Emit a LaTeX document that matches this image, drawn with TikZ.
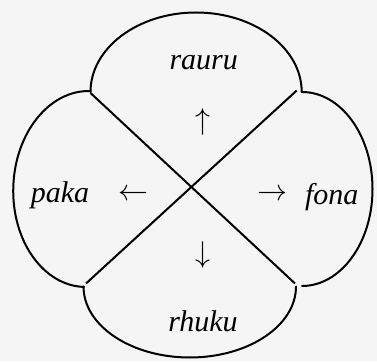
\RequirePackage{fix-cm}
\documentclass[tikz,border=0pt]{standalone}
\usepackage{fontspec}
\setmainfont{Liberation Serif}
\begin{document}
\begin{tikzpicture}[x=1pt,y=1pt,
  lobe/.style={line width=2pt, line cap=round},
  cross/.style={line width=2pt},
  word/.style={inner sep=0pt, anchor=base, font=\fontsize{30}{36}\selectfont\itshape},
  dirarrow/.style={inner sep=0pt, anchor=center, font=\fontsize{30}{36}\selectfont}]
\useasboundingbox[fill=black!4] (0,0) rectangle (377,361);
% corner junctions
\coordinate (ul) at (90.5,268);
\coordinate (lr) at (295,77.5);
\coordinate (ur) at (296.7,270.5);
\coordinate (ll) at (86,77.5);
% lobes
\draw[lobe] (90.5,269) arc[start angle=180, end angle=0, x radius=105.6, y radius=79.5];
\draw[lobe] (302,269) arc[start angle=90, end angle=-90, x radius=70.5, y radius=97];
\draw[lobe] (296,74.5) arc[start angle=0, end angle=-180, x radius=106.25, y radius=71];
\draw[lobe, rotate around={-1.9:(87.25,172)}] (87.25,270) arc[start angle=90, end angle=270, x radius=74, y radius=98];
% cross
\draw[cross] (ul) -- (lr);
\draw[cross] (ur) -- (ll);
% labels
\node[word] (rauru) at (203.7,291.7) {rauru};
\node[word] (paka) at (60,158.5) {paka};
\node[word] (fona) at (331.7,156.5) {fona};
\node[word] (rhuku) at (203,29.3) {rhuku};
% arrows
\node[dirarrow] (up) at (202.7,238.5) {$\uparrow$};
\node[dirarrow] (down) at (202.7,106) {$\downarrow$};
\node[dirarrow] (left) at (133.8,166) {$\leftarrow$};
\node[dirarrow] (right) at (272.5,166) {$\rightarrow$};
\end{tikzpicture}
\end{document}
